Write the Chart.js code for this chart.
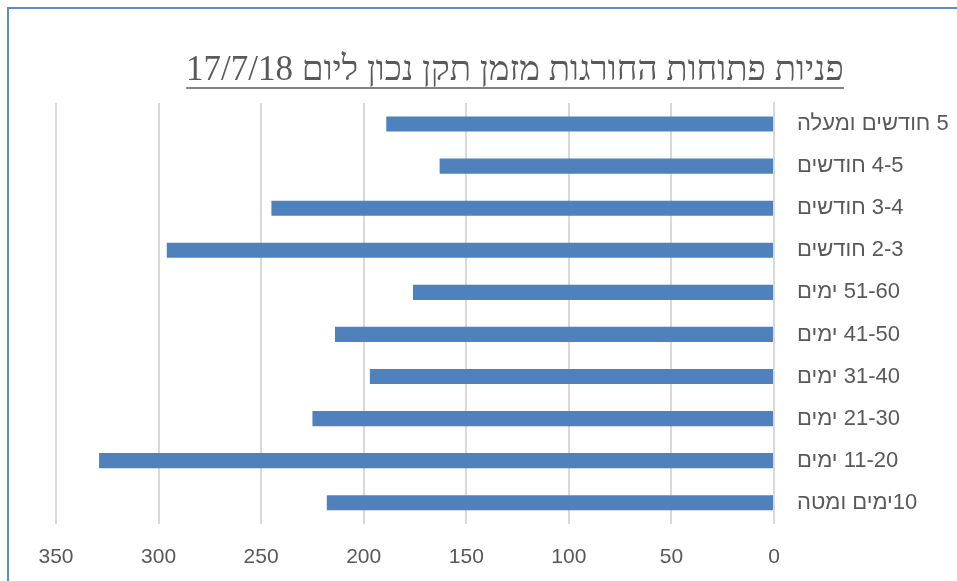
<!DOCTYPE html>
<html>
<head>
<meta charset="utf-8">
<script src="https://cdn.jsdelivr.net/npm/chart.js@4"></script>
<style>
    html, body { margin: 0; padding: 0; background: #fff; overflow: hidden; }
    #marco {
        position: absolute;
        left: 7px;
        top: 7px;
        width: 1010px;
        height: 600px;
        border-left: 2px solid #5b8ac6;
        border-top: 2px solid #5b8ac6;
    }
    #grafica { direction: rtl; }
</style>
</head>
<body>
<div id="marco">
    <canvas id="grafica"></canvas>
</div>
<script>
const titulo = 'פניות פתוחות החורגות מזמן תקן נכון ליום 17/7/18';

const categorias = [
    '5 חודשים ומעלה',
    '4-5 חודשים',
    '3-4 חודשים',
    '2-3 חודשים',
    '51-60 ימים',
    '41-50 ימים',
    '31-40 ימים',
    '21-30 ימים',
    '11-20 ימים',
    '10ימים ומטה'
];

const valores = [189, 163, 245, 296, 176, 214, 197, 225, 329, 218];

const ejeMin = 0;
const ejeMax = 350;
const ejePaso = 50;

const grisTexto = '#595959';
const grisRejilla = '#d9d9d9';

// Chart.js no subraya el título, lo pintamos a mano debajo
const subrayado = {
    id: 'subrayado',
    afterDraw(chart) {
        const t = chart.options.plugins.title;
        const bloque = chart.titleBlock;
        const ctx = chart.ctx;
        ctx.save();
        ctx.font = t.font.size + 'px ' + t.font.family;
        const ancho = ctx.measureText(titulo).width;
        const cx = (bloque.left + bloque.right) / 2;
        const y = bloque.top + t.padding.top + t.font.size * 1.2 / 2 + 17;
        ctx.strokeStyle = grisTexto;
        ctx.lineWidth = 1.5;
        ctx.beginPath();
        ctx.moveTo(cx - ancho / 2, y);
        ctx.lineTo(cx + ancho / 2, y);
        ctx.stroke();
        ctx.restore();
    }
};

const datos = {
    labels: categorias,
    datasets: [{
        data: valores,
        backgroundColor: '#4f81bd',
        borderWidth: 0,
        barPercentage: 0.36,
        categoryPercentage: 1
    }]
};

const opciones = {
    indexAxis: 'y',
    responsive: true,
    maintainAspectRatio: false,
    animation: false,
    layout: {
        padding: { left: 47, right: 45, top: 0, bottom: 18 }
    },
    plugins: {
        legend: { display: false },
        tooltip: { enabled: false },
        title: {
            display: true,
            text: titulo,
            color: grisTexto,
            font: { family: '"Liberation Serif", "Times New Roman", serif', size: 35, weight: 'normal' },
            padding: { top: 41, bottom: 11 }
        }
    },
    scales: {
        x: {
            min: ejeMin,
            max: ejeMax,
            reverse: true,
            grid: {
                color: grisRejilla,
                lineWidth: 2,
                drawTicks: false
            },
            border: { display: false },
            ticks: {
                stepSize: ejePaso,
                color: grisTexto,
                padding: 21,
                font: { family: '"Liberation Sans", Arial, sans-serif', size: 21 }
            }
        },
        y: {
            position: 'right',
            grid: { display: false, drawTicks: false },
            border: { display: true, color: grisRejilla, width: 2 },
            ticks: {
                autoSkip: false,
                color: grisTexto,
                padding: 23,
                font: { family: '"Liberation Sans", Arial, sans-serif', size: 22 }
            },
            afterFit: (scale) => { scale.width = 200; }
        }
    }
};

new Chart(document.getElementById('grafica'), {
    type: 'bar',
    data: datos,
    options: opciones,
    plugins: [subrayado]
});
</script>
</body>
</html>
